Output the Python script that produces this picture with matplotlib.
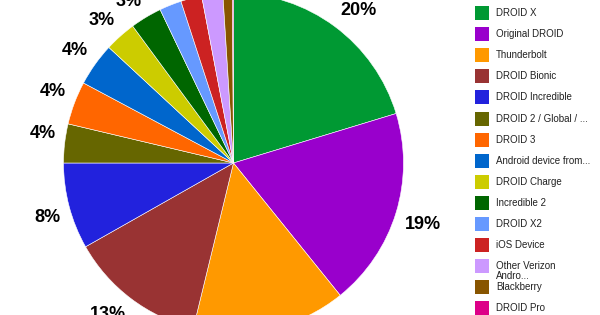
import matplotlib
matplotlib.use("Agg")
import numpy as np
import matplotlib.pyplot as plt
from matplotlib.patches import Rectangle

categories = ["DROID X", "Original DROID", "Thunderbolt", "DROID Bionic",
              "DROID Incredible", "DROID 2 / Global / ...", "DROID 3",
              "Android device from...", "DROID Charge", "Incredible 2",
              "DROID X2", "iOS Device", "Other Verizon\nAndro...",
              "Blackberry", "DROID Pro"]
values = [20.3, 18.9, 14.6, 13.0, 8.2, 3.7, 4.1, 4.1, 3.0, 3.0,
          2.1, 2.0, 2.0, 0.9, 0.1]
colors = ["#009933", "#9900cc", "#ff9900", "#993333", "#2222dd",
          "#666600", "#ff6600", "#0066cc", "#cccc00", "#006600",
          "#6699ff", "#cc2222", "#cc99ff", "#885500", "#dd0088"]

W, H = 600, 315
fig = plt.figure(figsize=(W / 100, H / 100), dpi=100)
ax = fig.add_axes([0, 0, 1, 1])

cx, cy, R = 233.5, 152, 170

def pct(p):
    return f"{p:.0f}%" if p >= 2.5 else ""

wedges, texts, autotexts = ax.pie(
    values, colors=colors, startangle=90, counterclock=False,
    center=(cx, cy), radius=R, autopct=pct, pctdistance=1.16,
    wedgeprops=dict(edgecolor="white", linewidth=0.4),
    textprops=dict(fontsize=13, fontweight="bold", color="black",
                   family="Liberation Sans"))

# place each label so its nearest corner sits just outside the rim
gap = 9
for w, t in zip(wedges, autotexts):
    th = np.deg2rad((w.theta1 + w.theta2) / 2)
    c, s = np.cos(th), np.sin(th)
    t.set_position((cx + (R + gap) * c, cy + (R + gap) * s))
    t.set_ha("left" if c >= 0 else "right")
    t.set_va("bottom" if s >= 0 else "top")

ax.set_xlim(0, W)
ax.set_ylim(0, H)
ax.set_aspect("equal", adjustable="box")
ax.axis("off")

# legend
x0, y_top, step = 475, 13, 21.1
for i, (lab, col) in enumerate(zip(categories, colors)):
    yc = H - (y_top + i * step)
    ax.add_patch(Rectangle((x0, yc - 7), 14, 14, facecolor=col,
                           edgecolor="none", clip_on=False))
    if "\n" in lab:
        ax.text(496, yc + 5.5, lab, fontsize=7, family="Liberation Sans",
                color="#222222", va="top", ha="left", linespacing=1.0)
    else:
        ax.text(496, yc, lab, fontsize=7, family="Liberation Sans",
                color="#222222", va="center", ha="left")

fig.savefig("out.png", dpi=100)
